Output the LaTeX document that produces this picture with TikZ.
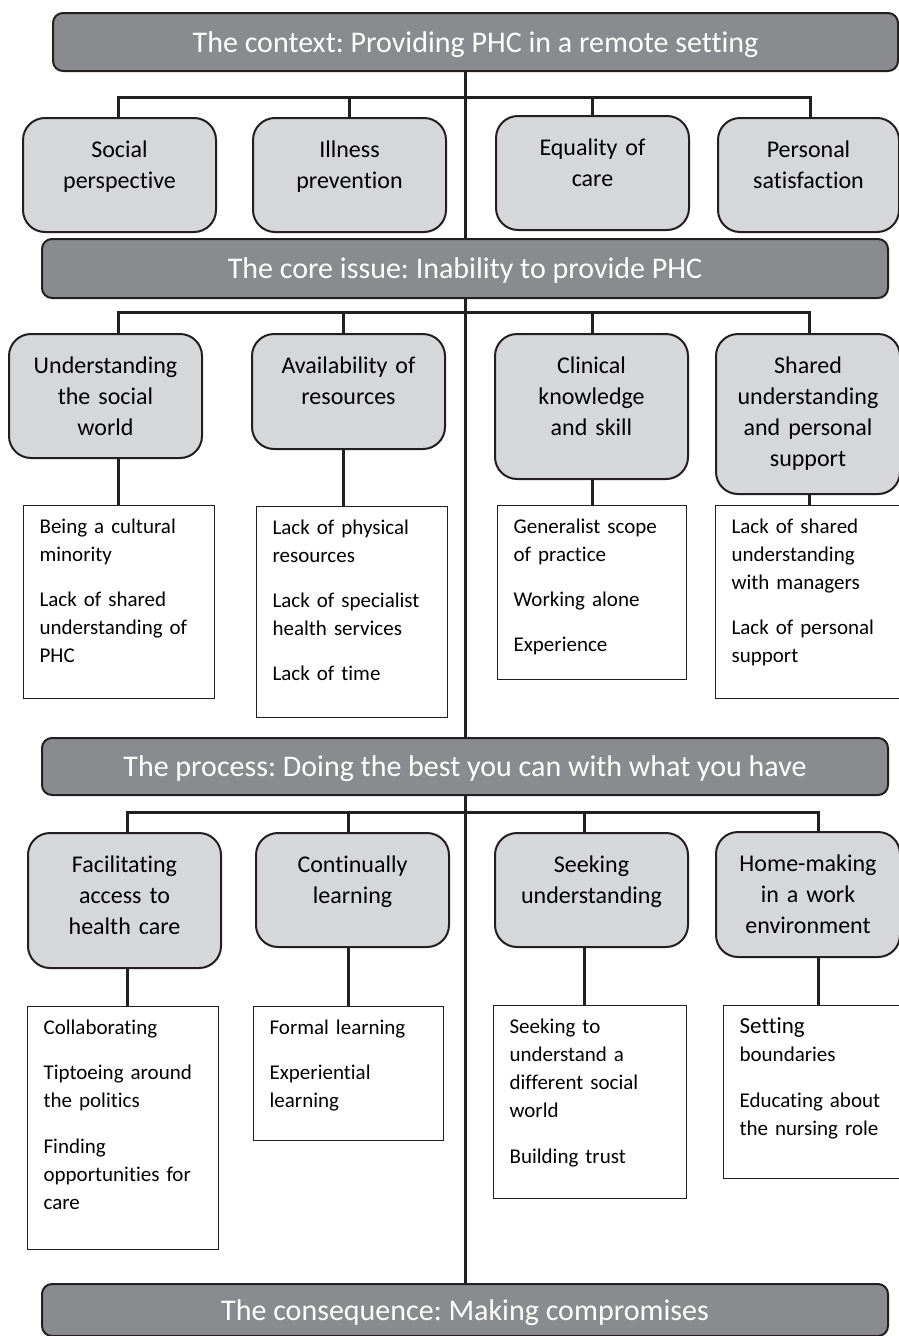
\documentclass[tikz,border=0pt]{standalone}
\usepackage{fontspec}
\setmainfont{Carlito}[Ligatures=NoCommon]
\frenchspacing
\usetikzlibrary{backgrounds}

\definecolor{edge}{RGB}{35,31,32}
\definecolor{headfill}{RGB}{138,139,142}
\definecolor{themefill}{RGB}{214,215,217}

\begin{document}
\begin{tikzpicture}[
    x=1pt, y=-1pt,
    header/.style={draw=edge, line width=2pt, fill=headfill, rounded corners=10pt,
        text=white, font=\fontsize{30}{36}\selectfont, minimum width=846pt,
        text depth=0pt, inner sep=0pt, anchor=north west},
    theme/.style={draw=edge, line width=2pt, fill=themefill, rounded corners=22pt,
        text width=193pt, align=center, inner xsep=0pt, inner ysep=0pt,
        text height=39pt, font=\fontsize{24}{31}\selectfont, anchor=north west},
    props/.style={draw=edge, line width=1.2pt, fill=white, align=left,
        inner xsep=16pt, inner ysep=0pt, text height=28pt,
        font=\fontsize{21}{28}\selectfont, anchor=north west},
    link/.style={draw=edge, line width=3pt, line cap=rect}
    ]

    \useasboundingbox (0,0) rectangle (898,1336);

    % the four levels
    \node[header, minimum width=845pt, minimum height=58pt] (ctx) at (52,12) {The context: Providing PHC in a remote setting};
    \node[header, minimum height=59pt] (core) at (41,238) {The core issue: Inability to provide PHC};
    \node[header, minimum height=57pt] (proc) at (41,737) {The process: Doing the best you can with what you have};
    \node[header, minimum height=52pt] (csq) at (41,1283) {The consequence: Making compromises};

    % context
    \node[theme, text depth=75pt] (soc) at (22,117) {Social\\perspective};
    \node[theme, text depth=75pt] (ill) at (252,117) {Illness\\prevention};
    \node[theme, text depth=75pt] (equ) at (495,115) {Equality of\\care};
    \node[theme, text depth=75pt, text width=181pt] (per) at (717,117) {Personal\\satisfaction};

    % core issue
    \node[theme, text depth=85pt] (und) at (8,333) {Understanding\\the social\\world};
    \node[theme, text depth=76pt] (ava) at (251,333) {Availability of\\resources};
    \node[theme, text depth=106pt] (cli) at (494,333) {Clinical\\knowledge\\and skill};
    \node[theme, text depth=121pt, text width=184pt] (sha) at (715,333) {Shared\\understanding\\and personal\\support};

    \node[props, text width=159pt, text depth=165pt] (minority) at (23,505)
        {Being a cultural\\minority\\[17pt]Lack of shared\\understanding of\\PHC};
    \node[props, text width=159pt, text depth=183pt] (resources) at (256,506)
        {Lack of physical\\resources\\[17pt]Lack of specialist\\health services\\[17pt]Lack of time};
    \node[props, text width=157pt, text depth=146pt] (scope) at (497,505)
        {Generalist scope\\of practice\\[17pt]Working alone\\[17pt]Experience};
    \node[props, text width=160pt, text depth=165pt] (managers) at (715,505)
        {Lack of shared\\understanding\\with managers\\[17pt]Lack of personal\\support};

    % process
    \node[theme, text depth=96pt] (fac) at (27,832) {Facilitating\\access to\\health care};
    \node[theme, text depth=75pt] (con) at (255,832) {Continually\\learning};
    \node[theme, text depth=75pt] (see) at (494,832) {Seeking\\understanding};
    \node[theme, text depth=86pt, text width=184pt] (hom) at (715,831) {Home-making\\in a work\\environment};

    \node[props, text width=159pt, text depth=215pt] (collab) at (27,1006)
        {Collaborating\\[17pt]Tiptoeing around\\the politics\\[18pt]Finding\\opportunities for\\care};
    \node[props, text width=158pt, text depth=106pt] (formal) at (253,1006)
        {Formal learning\\[17pt]Experiential\\learning};
    \node[props, text width=161pt, text depth=165pt] (trust) at (493,1005)
        {Seeking to\\understand a\\different social\\world\\[18pt]Building trust};
    \node[props, text width=160pt, text depth=145pt] (bounds) at (723,1005)
        {{\fontsize{23}{28}\selectfont Setting}\\boundaries\\[18pt]Educating about\\the nursing role};

    \begin{pgfonlayer}{background}
        % trunk
        \draw[link] (ctx.south -| csq.north) -- (csq.north);

        \foreach \n/\x in {soc/118, ill/349, equ/592, per/810}{
            \coordinate (\n-in) at (\x,97);
            \draw[link] (\n-in) -- (\n-in |- \n.north);
        }
        \draw[link] (soc-in) -- (per-in);

        \foreach \n/\p/\x in {und/minority/118, ava/resources/343, cli/scope/592, sha/managers/809}{
            \coordinate (\n-in) at (\x,312);
            \draw[link] (\n-in) -- (\n-in |- \n.north);
            \draw[link] (\n-in |- \n.south) -- (\n-in |- \p.north);
        }
        \draw[link] (und-in) -- (sha-in);

        \foreach \n/\p/\x in {fac/collab/127, con/formal/348, see/trust/584, hom/bounds/818}{
            \coordinate (\n-in) at (\x,812);
            \draw[link] (\n-in) -- (\n-in |- \n.north);
            \draw[link] (\n-in |- \n.south) -- (\n-in |- \p.north);
        }
        \draw[link] (fac-in) -- (hom-in);
    \end{pgfonlayer}

\end{tikzpicture}
\end{document}
